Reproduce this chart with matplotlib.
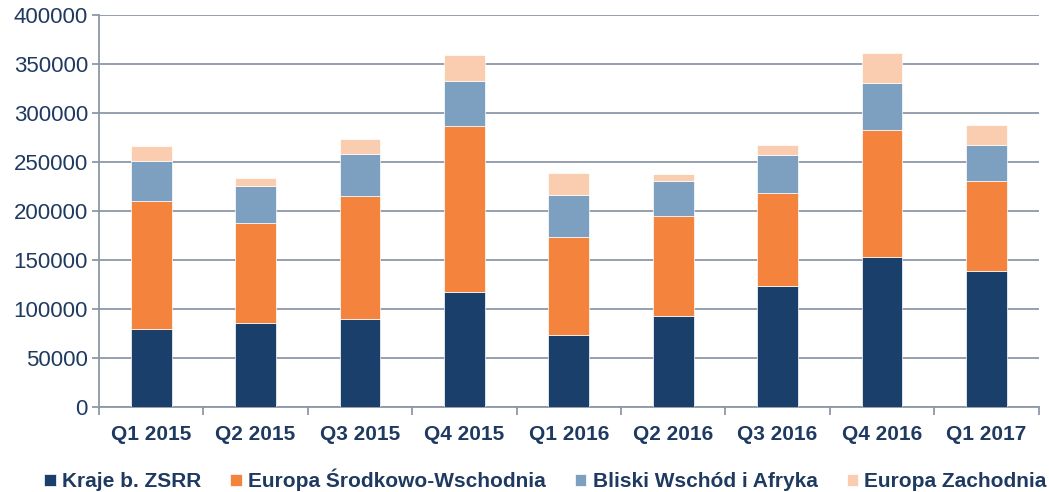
import numpy as np
import matplotlib

matplotlib.use("Agg")
import matplotlib.pyplot as plt

plt.rcParams["font.family"] = ["Liberation Sans", "DejaVu Sans"]

quarters = ["Q1 2015", "Q2 2015", "Q3 2015", "Q4 2015", "Q1 2016",
            "Q2 2016", "Q3 2016", "Q4 2016", "Q1 2017"]
series_names = ["Kraje b. ZSRR", "Europa Środkowo-Wschodnia",
                "Bliski Wschód i Afryka", "Europa Zachodnia"]
kraje_zsrr = [80000, 86000, 90000, 117000, 73000, 93000, 123000, 153000, 139000]
europa_sw = [130000, 102000, 125000, 170000, 100000, 102000, 95000, 130000, 92000]
bliski_wschod = [41000, 37000, 43000, 46000, 43000, 36000, 39000, 48000, 36000]
europa_zach = [15000, 9000, 15000, 26000, 23000, 7000, 10000, 30000, 21000]

colors = ["#1B3F6B", "#F4843D", "#7DA0C1", "#FBCDB0"]
text_color = "#1F3A60"
grid_color = "#8E97A8"


def main():
    fig = plt.figure(figsize=(10.49, 4.92), dpi=100)
    ax = fig.add_axes([0.0944, 0.1728, 0.8956, 0.7967])

    x = np.arange(len(quarters))
    bottom = np.zeros(len(quarters))
    handles = []
    for name, vals, col in zip(series_names,
                               [kraje_zsrr, europa_sw, bliski_wschod, europa_zach],
                               colors):
        b = ax.bar(x, vals, width=0.39, bottom=bottom, color=col,
                   edgecolor="white", linewidth=0.5, label=name, zorder=3)
        handles.append(b)
        bottom += np.array(vals)

    ax.set_xlim(-0.5, len(quarters) - 0.5)
    ax.set_ylim(0, 400000)
    ax.set_yticks(np.arange(0, 400001, 50000))
    ax.yaxis.grid(True, color=grid_color, linewidth=1.3, zorder=0)
    ax.tick_params(axis="y", colors=grid_color, labelcolor=text_color,
                   labelsize=16, length=5, width=1.3, pad=3)

    ax.set_xticks(x)
    ax.set_xticklabels(quarters, fontweight="bold", fontsize=15, color=text_color)
    ax.set_xticks(np.arange(-0.5, len(quarters)), minor=True)
    ax.tick_params(axis="x", which="major", length=0, pad=13)
    ax.tick_params(axis="x", which="minor", length=6, width=1.3, color=grid_color)

    for side in ["top", "right"]:
        ax.spines[side].set_visible(False)
    ax.spines["left"].set_color(grid_color)
    ax.spines["left"].set_linewidth(1.3)
    ax.spines["bottom"].set_color(grid_color)
    ax.spines["bottom"].set_linewidth(1.3)

    leg = fig.legend(handles=handles, labels=series_names, loc="lower center",
                     bbox_to_anchor=(0.52, -0.037), ncol=4, frameon=False,
                     handlelength=0.55, handleheight=0.55, handletextpad=0.3,
                     columnspacing=1.4, prop={"weight": "bold", "size": 15})
    for t in leg.get_texts():
        t.set_color(text_color)

    fig.savefig("out.png", dpi=100)


if __name__ == "__main__":
    main()
